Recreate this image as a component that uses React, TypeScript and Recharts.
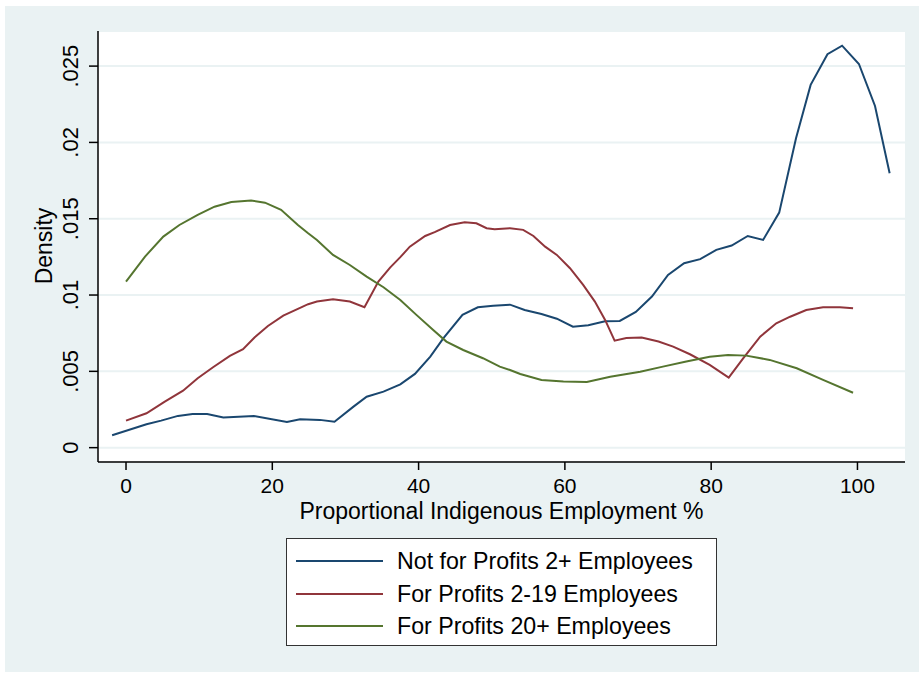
import { LineChart, Line, XAxis, YAxis, CartesianGrid } from "recharts"

// Not for Profits 2+ Employees
const nfpX = [-1.9, 2.8, 4.8, 7.1, 9.1, 11.1, 13.3, 17.5, 22.0, 23.8, 26.5, 28.5, 31.1, 32.9, 35.2, 37.5, 39.5, 41.6, 43.4, 46.0, 48.1, 50.2, 52.5, 54.5, 56.8, 58.9, 61.1, 63.2, 65.5, 67.5, 69.7, 71.9, 74.1, 76.3, 78.5, 80.7, 82.8, 85.0, 87.1, 89.3, 91.6, 93.6, 95.9, 97.9, 100.2, 102.4, 104.4]
const nfpY = [0.00081, 0.00153, 0.00177, 0.00208, 0.00221, 0.00221, 0.00197, 0.00207, 0.00168, 0.00186, 0.00182, 0.0017, 0.00269, 0.00334, 0.00367, 0.00415, 0.00483, 0.00596, 0.00717, 0.0087, 0.0092, 0.00929, 0.00937, 0.00902, 0.00876, 0.00845, 0.00793, 0.00802, 0.00828, 0.0083, 0.00889, 0.0099, 0.01132, 0.01208, 0.01235, 0.01296, 0.01324, 0.01387, 0.01361, 0.0154, 0.02027, 0.02377, 0.02578, 0.02634, 0.02514, 0.02239, 0.01798]

// For Profits 2-19 Employees
const fpSmallX = [0.0, 2.8, 5.3, 7.8, 9.8, 11.9, 14.2, 16.0, 17.6, 19.4, 21.5, 23.5, 24.9, 26.1, 28.3, 30.6, 32.6, 34.5, 36.1, 37.5, 38.8, 40.9, 42.2, 44.3, 46.3, 47.9, 49.3, 50.4, 52.5, 54.3, 55.7, 57.3, 58.9, 60.7, 62.5, 64.1, 65.5, 66.8, 68.4, 70.5, 72.8, 74.8, 77.1, 79.8, 82.4, 84.4, 86.7, 88.9, 90.8, 93.0, 95.3, 97.6, 99.4]
const fpSmallY = [0.00177, 0.00225, 0.00301, 0.00373, 0.00455, 0.00527, 0.00601, 0.00645, 0.00723, 0.00797, 0.00865, 0.00909, 0.0094, 0.00957, 0.00973, 0.00957, 0.0092, 0.01088, 0.0118, 0.01248, 0.01317, 0.01387, 0.01412, 0.01459, 0.01477, 0.0147, 0.01438, 0.01431, 0.01438, 0.01427, 0.01387, 0.01317, 0.01263, 0.01176, 0.01066, 0.00957, 0.00837, 0.00701, 0.00719, 0.00721, 0.00695, 0.00662, 0.00612, 0.00542, 0.00459, 0.00586, 0.00727, 0.00815, 0.00858, 0.00902, 0.0092, 0.0092, 0.00913]

// For Profits 20+ Employees
const fpLargeX = [0.0, 2.6, 5.1, 7.3, 9.8, 12.1, 14.4, 17.1, 19.0, 21.2, 23.5, 24.9, 26.1, 28.3, 30.6, 32.9, 35.2, 37.5, 39.7, 42.0, 43.8, 46.1, 48.8, 51.1, 52.5, 53.9, 56.8, 59.8, 63.0, 66.2, 70.3, 73.4, 76.6, 79.8, 82.3, 84.8, 88.0, 91.7, 95.3, 99.4]
const fpLargeY = [0.01088, 0.01252, 0.01383, 0.01459, 0.01525, 0.01579, 0.0161, 0.01619, 0.01605, 0.01558, 0.01459, 0.01405, 0.01361, 0.01263, 0.01197, 0.01121, 0.01051, 0.00968, 0.0087, 0.00771, 0.00695, 0.0064, 0.00586, 0.00531, 0.00509, 0.00483, 0.00444, 0.00433, 0.0043, 0.00465, 0.00498, 0.00531, 0.00564, 0.00596, 0.00607, 0.00603, 0.00575, 0.0052, 0.00444, 0.0036]

const xTicks = [0, 20, 40, 60, 80, 100]
const yTicks = [0, 0.005, 0.01, 0.015, 0.02, 0.025]

const zip = (xs: number[], ys: number[]) => xs.map((x, i) => ({ x, y: ys[i] }))

const series = [
  { name: "Not for Profits 2+ Employees", color: "#1a476f", data: zip(nfpX, nfpY) },
  { name: "For Profits 2-19 Employees", color: "#90353b", data: zip(fpSmallX, fpSmallY) },
  { name: "For Profits 20+ Employees", color: "#55752f", data: zip(fpLargeX, fpLargeY) },
]

const FONT = "'Liberation Sans', Arial, Helvetica, sans-serif"
const BG = "#eaf2f3"

const fmtY = (v: number) => (v === 0 ? "0" : String(v).replace(/^0/, ""))

function YTick(props: any) {
  const { x, y, payload } = props
  return (
    <text
      x={x}
      y={y}
      transform={`rotate(-90 ${x} ${y})`}
      textAnchor="middle"
      fontSize={22}
      fontFamily={FONT}
      fill="#000"
    >
      {fmtY(payload.value)}
    </text>
  )
}

function DensityLabel() {
  return (
    <text
      x={52}
      y={246}
      transform="rotate(-90 52 246)"
      textAnchor="middle"
      fontSize={23}
      fontFamily={FONT}
      fill="#000"
    >
      Density
    </text>
  )
}

function XTitle() {
  return (
    <text x={501.5} y={519} textAnchor="middle" fontSize={23} fontFamily={FONT} fill="#000">
      Proportional Indigenous Employment %
    </text>
  )
}

export default function App() {
  return (
    <div style={{ position: "absolute", left: 0, top: 0, width: 922, height: 675, background: "#fff" }}>
      <div style={{ position: "absolute", left: 5, top: 6, width: 914, height: 666, background: BG }} />
      <div style={{ position: "absolute", left: 0, top: 0 }}>
        <LineChart width={922} height={675} margin={{ top: 31, right: 17, bottom: 133, left: 0 }}>
          <CartesianGrid
            horizontal
            vertical={false}
            stroke={BG}
            strokeWidth={2}
            fill="#fff"
            fillOpacity={1}
          />
          <XAxis
            type="number"
            dataKey="x"
            domain={[-3.83, 106.5]}
            ticks={xTicks}
            allowDataOverflow
            height={80}
            tickSize={8}
            tickMargin={8}
            axisLine={{ stroke: "#000", strokeWidth: 1.5 }}
            tickLine={{ stroke: "#000", strokeWidth: 1.5 }}
            tick={{ fontSize: 21, fill: "#000", fontFamily: FONT }}
            label={<XTitle />}
          />
          <YAxis
            type="number"
            domain={[-0.00094, 0.0273]}
            ticks={yTicks}
            allowDataOverflow
            width={98}
            tickSize={9}
            tickMargin={11}
            axisLine={{ stroke: "#000", strokeWidth: 1.5 }}
            tickLine={{ stroke: "#000", strokeWidth: 1.5 }}
            tick={<YTick />}
            label={<DensityLabel />}
          />
          {series.map((s) => (
            <Line
              key={s.name}
              data={s.data}
              dataKey="y"
              name={s.name}
              type="linear"
              stroke={s.color}
              strokeWidth={2}
              dot={false}
              isAnimationActive={false}
            />
          ))}
        </LineChart>
      </div>
      {/* legend box */}
      <div
        style={{
          position: "absolute",
          left: 286,
          top: 538,
          width: 429,
          height: 106,
          background: "#fff",
          border: "1px solid #333",
          fontFamily: FONT,
          fontSize: 23.2,
        }}
      >
        {series.map((s, i) => (
          <div key={s.name} style={{ position: "absolute", left: 0, top: 22 + i * 32.5, height: 0 }}>
            <div
              style={{
                position: "absolute",
                left: 9,
                top: -1,
                width: 87,
                height: 2,
                background: s.color,
              }}
            />
            <div style={{ position: "absolute", left: 110, top: -14, whiteSpace: "nowrap", lineHeight: "28px" }}>
              {s.name}
            </div>
          </div>
        ))}
      </div>
    </div>
  )
}
